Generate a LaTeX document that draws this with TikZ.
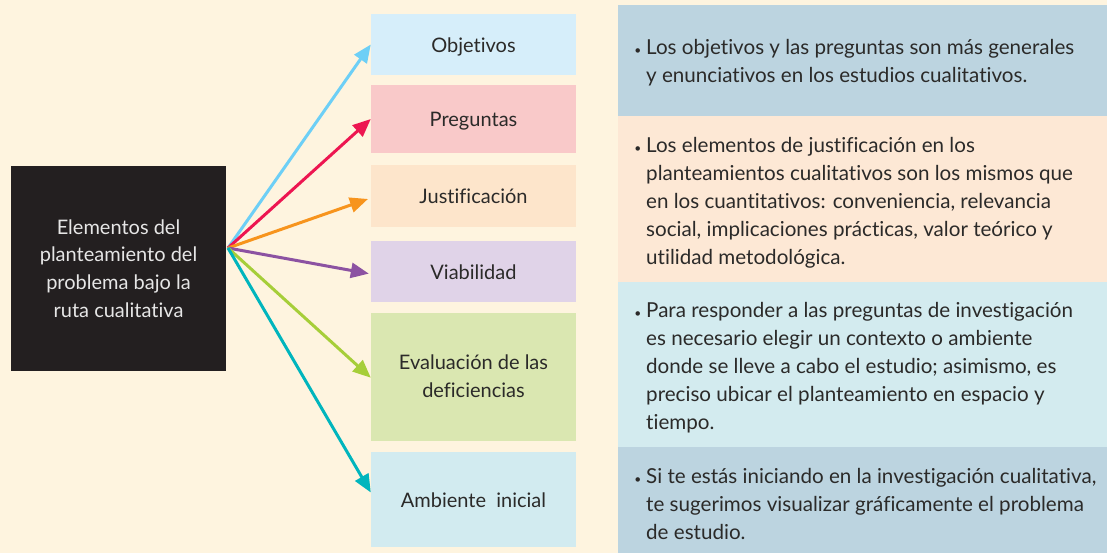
\documentclass[tikz,border=0pt]{standalone}
\usepackage{fontspec}
\setmainfont{Lato}[Ligatures={NoCommon}]
\usetikzlibrary{arrows.meta}

\definecolor{cream}{HTML}{FEF4DF}
\definecolor{ink}{HTML}{2B2A29}
\definecolor{rootfill}{HTML}{231F20}
\definecolor{roottext}{HTML}{E6E6E6}
\definecolor{objfill}{HTML}{D6EEFA}
\definecolor{pregfill}{HTML}{F9C9C9}
\definecolor{jusfill}{HTML}{FDE5CB}
\definecolor{viafill}{HTML}{E0D3E8}
\definecolor{evafill}{HTML}{DAE7B1}
\definecolor{ambfill}{HTML}{D2EBF0}
\definecolor{blueside}{HTML}{BCD4E0}
\definecolor{peachside}{HTML}{FDE8D5}
\definecolor{tealside}{HTML}{D3EBEF}
\definecolor{objline}{HTML}{6DCFF6}
\definecolor{pregline}{HTML}{ED1651}
\definecolor{jusline}{HTML}{F7941D}
\definecolor{vialine}{HTML}{8C52A2}
\definecolor{evaline}{HTML}{A6CE39}
\definecolor{ambline}{HTML}{00B5BD}

\begin{document}
\begin{tikzpicture}[x=1pt, y=-1pt, every node/.style={font=\fontsize{20}{28}\selectfont, text=ink},
    elem/.style={minimum width=205pt, inner sep=0pt, align=center, text height=18pt, text depth=2pt},
    side/.style={minimum width=489pt, inner sep=0pt, anchor=north west},
    note/.style={font=\fontsize{20.6}{28}\selectfont, inner sep=0pt, align=left, anchor=north west},
    link/.style={line width=3pt, -{Triangle[length=18pt, width=15pt]}}]
    \useasboundingbox (0,0) rectangle (1107,553);
    \fill[cream] (0,0) rectangle (1107,553);

    % root
    \node[fill=rootfill, text=roottext, minimum width=215pt, minimum height=205pt, inner sep=0pt, align=center,
          font=\fontsize{20}{27.7}\selectfont] (root) at (118.5,268.5) {Elementos del\\planteamiento del\\problema bajo la\\ruta cualitativa};
    \coordinate (hub) at (228,248);

    % elements
    \node[elem, fill=objfill, minimum height=61pt] (obj) at (473.5,44.5) {Objetivos};
    \node[elem, fill=pregfill, minimum height=68pt] (preg) at (473.5,119) {Preguntas};
    \node[elem, fill=jusfill, minimum height=62pt] (jus) at (473.5,196) {Justificación};
    \node[elem, fill=viafill, minimum height=61pt] (via) at (473.5,271) {Viabilidad};
    \node[elem, fill=evafill, minimum height=127.5pt, text height=42.5pt] (eva) at (473.5,376.75) {Evaluación de las\\deficiencias};
    \node[elem, fill=ambfill, minimum height=95pt] (amb) at (473.5,499.5) {Ambiente\ \ inicial};

    % arrows
    \draw[link, objline] (hub) -- (obj.west);
    \draw[link, pregline] (hub) -- (preg.west);
    \draw[link, jusline, shorten >=3pt] (hub) -- ([yshift=-2pt]jus.west);
    \draw[link, vialine, shorten >=2pt] (hub) -- ([yshift=-3pt]via.west);
    \draw[link, evaline] (hub) -- ([yshift=-1pt]eva.west);
    \draw[link, ambline] (hub) -- ([yshift=7pt]amb.west);

    % side notes
    \node[side, fill=blueside, minimum height=111pt] (pan1) at (618,5) {};
    \node[side, fill=peachside, minimum height=166pt] (pan2) at (618,116) {};
    \node[side, fill=tealside, minimum height=165pt] (pan3) at (618,282) {};
    \node[side, fill=blueside, minimum height=106pt] (pan4) at (618,447) {};

    \node[note] (txt1) at (646,34.4) {\llap{\fontsize{12}{12}\selectfont\textbullet\hspace{5pt}}\strut Los objetivos y las preguntas son más generales\\y enunciativos en los estudios cualitativos.};
    \node[note] (txt2) at (646,132.4) {\llap{\fontsize{12}{12}\selectfont\textbullet\hspace{5pt}}\strut Los elementos de justificación en los\\planteamientos cualitativos son los mismos que\\en los cuantitativos: conveniencia, relevancia\\social, implicaciones prácticas, valor teórico y\\utilidad metodológica.};
    \node[note] (txt3) at (646,297.4) {\llap{\fontsize{12}{12}\selectfont\textbullet\hspace{5pt}}\strut Para responder a las preguntas de investigación\\es necesario elegir un contexto o ambiente\\donde se lleve a cabo el estudio; asimismo, es\\preciso ubicar el planteamiento en espacio y\\tiempo.};
    \node[note] (txt4) at (646,463.4) {\llap{\fontsize{12}{12}\selectfont\textbullet\hspace{5pt}}\strut Si te estás iniciando en la investigación cualitativa,\\te sugerimos visualizar gráficamente el problema\\de estudio.};
\end{tikzpicture}
\end{document}
